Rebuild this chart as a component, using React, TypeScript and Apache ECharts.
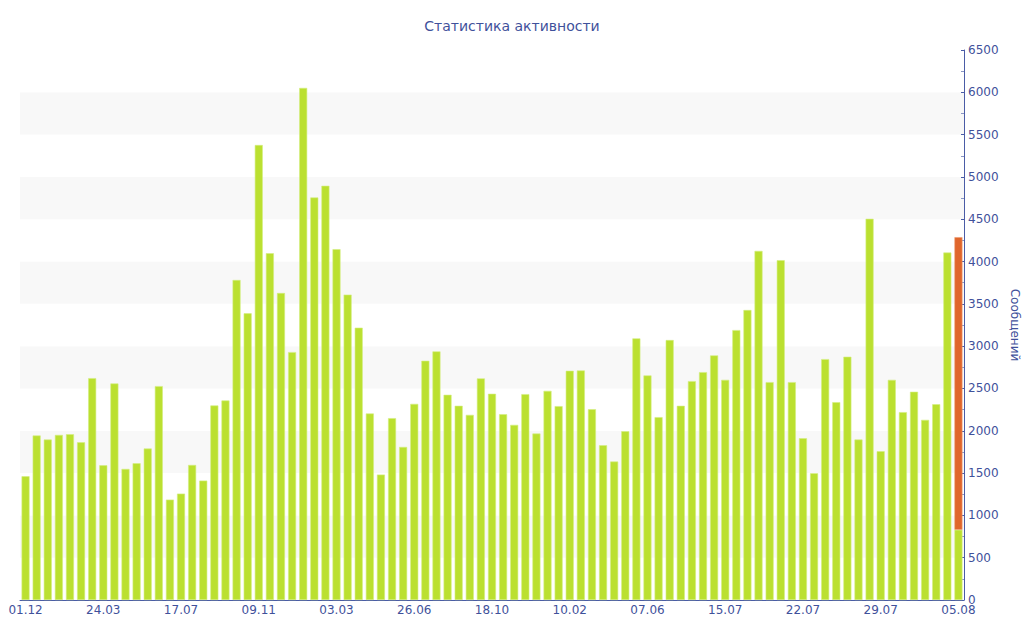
import React, { useEffect, useRef } from "react";
import * as echarts from "echarts";

const categories: string[] = [
  "01.12.2010", "17.12.2010", "02.01.2011", "18.01.2011", "03.02.2011", "19.02.2011", "07.03.2011",
  "24.03.2011", "09.04.2011", "25.04.2011", "11.05.2011", "27.05.2011", "12.06.2011", "29.06.2011",
  "17.07.2011", "02.08.2011", "18.08.2011", "03.09.2011", "19.09.2011", "05.10.2011", "22.10.2011",
  "09.11.2011", "25.11.2011", "11.12.2011", "27.12.2011", "12.01.2012", "28.01.2012", "14.02.2012",
  "03.03.2012", "19.03.2012", "04.04.2012", "20.04.2012", "06.05.2012", "22.05.2012", "09.06.2012",
  "26.06.2012", "12.07.2012", "28.07.2012", "13.08.2012", "29.08.2012", "14.09.2012", "01.10.2012",
  "18.10.2012", "03.11.2012", "19.11.2012", "05.12.2012", "21.12.2012", "06.01.2013", "23.01.2013",
  "10.02.2013", "26.02.2013", "14.03.2013", "30.03.2013", "15.04.2013", "01.05.2013", "20.05.2013",
  "07.06.2013", "12.06.2013", "17.06.2013", "23.06.2013", "28.06.2013", "04.07.2013", "09.07.2013",
  "15.07.2013", "16.07.2013", "17.07.2013", "18.07.2013", "19.07.2013", "20.07.2013", "21.07.2013",
  "22.07.2013", "23.07.2013", "24.07.2013", "25.07.2013", "26.07.2013", "27.07.2013", "28.07.2013",
  "29.07.2013", "30.07.2013", "31.07.2013", "01.08.2013", "02.08.2013", "03.08.2013", "04.08.2013",
  "05.08.2013",
];

// Completed periods (green); the last one is the current, partly counted period
const messages: number[] = [
  1462, 1944, 1896, 1951, 1959, 1864, 2622,
  1592, 2559, 1549, 1616, 1790, 2528, 1186,
  1257, 1596, 1411, 2299, 2358, 3782, 3388,
  5377, 4098, 3628, 2930, 6052, 4757, 4895,
  4146, 3609, 3218, 2204, 1482, 2149, 1809,
  2318, 2827, 2938, 2425, 2295, 2188, 2619,
  2437, 2196, 2070, 2433, 1967, 2472, 2291,
  2709, 2713, 2255, 1829, 1636, 1995, 3092,
  2654, 2161, 3072, 2295, 2587, 2693, 2891,
  2602, 3190, 3427, 4126, 2575, 4016, 2575,
  1912, 1498, 2847, 2338, 2875, 1896, 4505,
  1758, 2602, 2220, 2461, 2129, 2314, 4106,
  830,
];

// Forecast remainder stacked on the current period (orange)
const forecast: (number | null)[] = categories.map((_, i) =>
  i === categories.length - 1 ? 3458 : null
);

const yTicks = { min: 0, max: 6500, interval: 500 };

const BLUE = "#4a5ca6";
const TEXT = "#3f519b";
const FONT = "DejaVu Sans";

export default function App() {
  const ref = useRef<HTMLDivElement>(null);
  useEffect(() => {
    if (!ref.current) return;
    const chart = echarts.init(ref.current, undefined, { renderer: "svg" });
    chart.setOption({
      animation: false,
      backgroundColor: "#ffffff",
      textStyle: { fontFamily: FONT },
      title: {
        text: "Статистика активности",
        left: "center",
        top: 14,
        textStyle: { color: TEXT, fontSize: 14, fontWeight: "normal", fontFamily: FONT },
      },
      grid: {
        left: 20,
        right: 60,
        top: 50,
        bottom: 40,
        containLabel: false,
        outerBoundsMode: "none",
      },
      xAxis: {
        type: "category",
        data: categories,
        axisLine: { lineStyle: { color: BLUE, width: 1 } },
        axisTick: { alignWithLabel: true, interval: 6, length: 4, lineStyle: { color: BLUE } },
        axisLabel: {
          interval: 6,
          color: TEXT,
          fontSize: 12,
          fontFamily: FONT,
          margin: 4,
          formatter: (v: string) => v.slice(0, 5),
        },
        splitLine: { show: false },
      },
      yAxis: {
        type: "value",
        position: "right",
        min: yTicks.min,
        max: yTicks.max,
        interval: yTicks.interval,
        name: "Сообщений",
        nameLocation: "middle",
        nameRotate: -90,
        nameGap: 43,
        nameTextStyle: { color: TEXT, fontSize: 12, fontFamily: FONT },
        axisLine: { show: true, lineStyle: { color: BLUE, width: 1 } },
        axisTick: { show: true, inside: true, length: 3, lineStyle: { color: BLUE } },
        minorTick: { show: true, splitNumber: 2, length: 3, lineStyle: { color: "#8a96c4" } },
        axisLabel: {
          color: TEXT,
          fontSize: 12,
          fontFamily: FONT,
          margin: 4,
          formatter: (v: number) => String(v),
        },
        splitLine: { show: false },
        splitArea: { show: true, areaStyle: { color: ["#ffffff", "#f8f8f8"] } },
      },
      series: [
        {
          type: "bar",
          stack: "total",
          data: messages,
          barCategoryGap: "28%",
          itemStyle: { color: "#bbe030", borderColor: "#d4ee80", borderWidth: 0.6 },
        },
        {
          type: "bar",
          stack: "total",
          data: forecast,
          itemStyle: { color: "#e0662c", borderColor: "#ee9a70", borderWidth: 0.6 },
        },
      ],
    });
    return () => chart.dispose();
  }, []);
  return <div ref={ref} style={{ width: 1024, height: 640, position: "absolute", left: 0, top: 0 }} />;
}
